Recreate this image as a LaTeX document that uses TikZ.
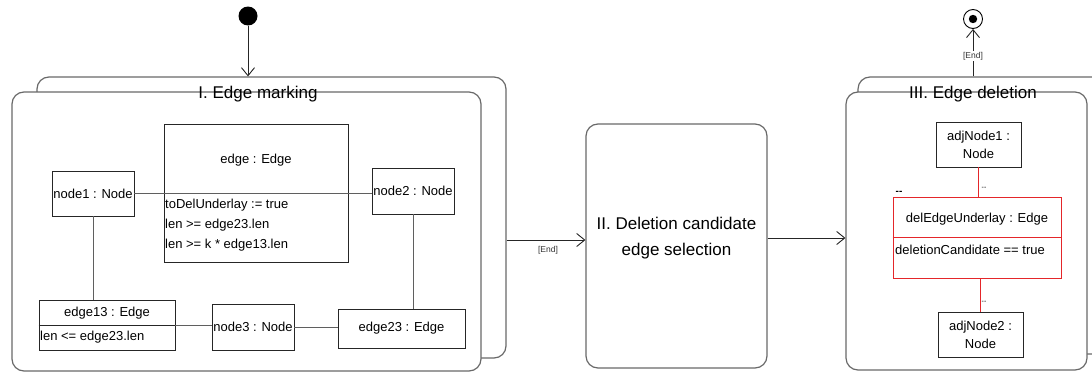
\documentclass[tikz,border=0pt]{standalone}
\usepackage{fontspec}
\setmainfont{Liberation Sans}
\usetikzlibrary{arrows.meta,calc}

\definecolor{framegray}{RGB}{105,105,105}
\definecolor{linegray}{RGB}{95,95,95}
\definecolor{delred}{RGB}{228,38,42}

\tikzset{
  frame/.style={draw=framegray, line width=1.2pt, rounded corners=12pt,
    fill=white, inner sep=0pt},
  objbox/.style={draw=black!85, line width=0.9pt, fill=white, inner sep=0pt,
    font=\fontsize{13}{18}\selectfont, align=center},
  redbox/.style={draw=delred, line width=1pt, fill=white, inner sep=0pt},
  txt/.style={inner sep=0pt, font=\fontsize{13}{18}\selectfont},
  title/.style={inner sep=0pt, font=\fontsize{17}{26}\selectfont, align=center},
  guard/.style={inner sep=1pt, font=\fontsize{8.5}{10}\selectfont, text=black!80},
  link/.style={draw=linegray, line width=1pt},
  redlink/.style={draw=delred, line width=1pt},
  flow/.style={draw=black!85, line width=0.9pt,
    -{Straight Barb[length=8pt,width=13pt,line width=0.9pt]}},
}

\begin{document}
\begin{tikzpicture}[x=1pt,y=-1pt]
\clip (0,0) rectangle (1092,372);
\fill[white] (0,0) rectangle (1092,372);

% start and final pseudo-states
\node[circle, fill=black, minimum size=19pt, inner sep=0pt] (init) at (248,16) {};
\node[circle, draw=black, line width=0.9pt, fill=white, minimum size=19pt, inner sep=0pt] (fin) at (973,19) {};
\fill[black] (fin.center) circle (4.2pt);

% I. Edge marking
\node[frame, minimum width=469pt, minimum height=281pt] (em1back) at (271.5,217.5) {};
\node[frame, minimum width=469pt, minimum height=279pt] (em1) at (246.5,231.5) {};
\node[title] (em1title) at (258,94) {I. Edge marking};

% II. Deletion candidate edge selection
\node[frame, minimum width=181pt, minimum height=244pt] (del2) at (676.5,246) {};
\node[title] (del2title) at (676.5,238) {II. Deletion candidate\\edge selection};

% III. Edge deletion
\node[frame, minimum width=252pt, minimum height=277pt] (ed3back) at (984,215.5) {};
\node[frame, minimum width=241pt, minimum height=278pt] (ed3) at (966.5,231) {};
\node[title] (ed3title) at (973,94) {III. Edge deletion};

% objects of the edge-marking pattern
\node[objbox, minimum width=184pt, minimum height=138pt] (edge) at (256,193) {};
\node[txt] (edgetitle) at (256,160) {edge : Edge};
\node[txt, anchor=west] (edgeattr1) at (165,205) {toDelUnderlay := true};
\node[txt, anchor=west] (edgeattr2) at (165,225) {len >= edge23.len};
\node[txt, anchor=west] (edgeattr3) at (165,245) {len >= k * edge13.len};

\node[objbox, minimum width=82pt, minimum height=45pt] (node1) at (93,193.5) {node1 : Node};
\node[objbox, minimum width=82pt, minimum height=46pt] (node2) at (413,191) {node2 : Node};
\node[objbox, minimum width=82pt, minimum height=46pt] (node3) at (253,327) {node3 : Node};
\node[objbox, minimum width=127pt, minimum height=39pt] (edge23) at (401.5,328.5) {edge23 : Edge};

\node[objbox, minimum width=136pt, minimum height=50pt] (edge13) at (107,325) {};
\draw[black!85, line width=0.9pt] (edge13.west) -- (edge13.east);
\node[txt] (edge13title) at (107,313) {edge13 : Edge};
\node[txt, anchor=west] (edge13attr) at (40,337) {len <= edge23.len};

% links of the edge-marking pattern
\draw[link] (node1.east) -- (node1.east -| node2.west);
\draw[link] (node1.south) -- (node1.south |- edge13.north);
\draw[link] (edge13.east) -- (edge13.east -| node3.west);
\draw[link] (node3.east) -- (node3.east -| edge23.west);
\draw[link] (node2.south) -- (node2.south |- edge23.north);

% objects of the edge-deletion pattern
\node[objbox, minimum width=85pt, minimum height=45pt] (adj1) at (978.5,144.5) {adjNode1 :\\Node};
\node[objbox, minimum width=85pt, minimum height=45pt] (adj2) at (980.5,334.5) {adjNode2 :\\Node};
\node[redbox, minimum width=168pt, minimum height=81pt] (deledge) at (977,237.5) {};
\draw[delred, line width=1pt] (deledge.west) -- (deledge.east);
\node[txt] (deledgetitle) at (977,219) {delEdgeUnderlay : Edge};
\node[txt, anchor=west] (deledgeattr) at (895,250) {deletionCandidate == true};

\draw[redlink] (adj1.south) -- (adj1.south |- deledge.north);
\draw[redlink] (adj2.north |- deledge.south) -- (adj2.north);
\node[inner sep=0pt, font=\fontsize{7}{8}\selectfont] (m1) at (984,188) {{-}{-}};
\node[inner sep=0pt, font=\fontsize{7}{8}\selectfont] (m2) at (984,302) {{-}{-}};
\node[inner sep=0pt, font=\bfseries\fontsize{10}{10}\selectfont] (m3) at (899,193) {{-}{-}};

% control flow between the phases
\draw[flow] (init) -- (init |- em1back.north);
\draw[flow] (em1back.east |- 0,240) -- (del2.west |- 0,240);
\node[guard] (g1) at (548,250) {[End]};
\draw[flow] (del2.east |- 0,238) -- (ed3.west |- 0,238);
\draw[flow] (fin |- ed3back.north) -- (fin);
\node[guard, fill=white] (g2) at (973,56) {[End]};
\end{tikzpicture}
\end{document}
